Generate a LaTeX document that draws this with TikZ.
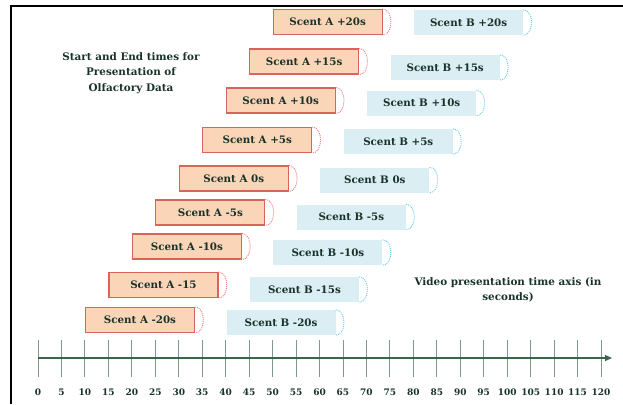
\documentclass[tikz,border=0pt]{standalone}
\usepackage{tikz}
\usepackage{fontspec}
\setmainfont{DejaVu Serif}
\usetikzlibrary{arrows.meta}

\definecolor{inkgreen}{HTML}{1A332A}
\definecolor{axisgreen}{HTML}{3A6649}
\definecolor{tickgreen}{HTML}{7F9B87}
\definecolor{peach}{HTML}{FBD5B8}
\definecolor{peachedge}{HTML}{D8645A}
\definecolor{dotred}{HTML}{F27C82}
\definecolor{paleblue}{HTML}{DAEEF4}
\definecolor{dotblue}{HTML}{66CCF2}

\tikzset{
  scentA/.style={draw=peachedge, line width=1.1pt, fill=peach, minimum width=109pt,
    minimum height=25pt, inner sep=0pt, text=inkgreen,
    font=\fontsize{10.3}{12}\selectfont\bfseries},
  scentB/.style={fill=paleblue, minimum width=109pt, minimum height=25pt,
    inner sep=0pt, text=inkgreen, font=\fontsize{10.3}{12}\selectfont\bfseries},
  capA/.style={dotred, dash pattern=on 1pt off 1pt, line width=0.9pt},
  capB/.style={dotblue, dash pattern=on 1pt off 1pt, line width=0.9pt},
  caption/.style={text=inkgreen, align=center,
    font=\fontsize{10.4}{15.5}\selectfont\bfseries},
  ticklabel/.style={text=inkgreen, font=\fontsize{9}{10}\selectfont\bfseries}
}

\begin{document}
\begin{tikzpicture}[x=1pt,y=-1pt]
\useasboundingbox (0,0) rectangle (623,404);

% Frame
\draw [line width=2.2pt] (11,404) -- (11,6) -- (623,6);

% Scent rows, A starts 30 s before B
\foreach \tA/\tB/\ya/\yb [count=\i from 0] in
  {-20s/-20s/320/322.5, -15/-15s/285/289.5, -10s/-10s/246.5/252.5,
   -5s/-5s/212.5/217, 0s/0s/178.5/180, +5s/+5s/140/141.5,
   +10s/+10s/100.5/103, +15s/+15s/61.5/67.5, +20s/+20s/22/22.5}
{
  \pgfmathsetmacro{\xa}{140+23.45*\i}
  \pgfmathsetmacro{\xb}{\xa+141}
  \node [scentA] (a\i) at (\xa,\ya) {Scent A \tA};
  \node [scentB] (b\i) at (\xb,\yb) {Scent B \tB};
  \draw [capA] (a\i.north east) .. controls +(11,0) and +(11,0) .. (a\i.south east);
  \draw [capB] (b\i.north east) .. controls +(11,0) and +(11,0) .. (b\i.south east);
}

% Captions
\node [caption] (title) at (131,73) {Start and End times for\\Presentation of\\Olfactory Data};
\node [caption] (axisnote) at (508,290) {Video presentation time axis (in\\seconds)};

% Axis
\coordinate (origin) at (38,358);
\coordinate (tip) at (612,358);
\foreach \k in {0,...,24}
{
  \pgfmathsetmacro{\xt}{38+23.46*\k}
  \pgfmathtruncatemacro{\sec}{5*\k}
  \draw [tickgreen, line width=0.9pt] (\xt,340) -- (\xt,377);
  \node [ticklabel] (t\k) at (\xt,392) {\sec};
}
\draw [axisgreen, line width=1.3pt, -{Triangle[length=7pt,width=6pt]}] (origin) -- (tip);

\end{tikzpicture}
\end{document}
